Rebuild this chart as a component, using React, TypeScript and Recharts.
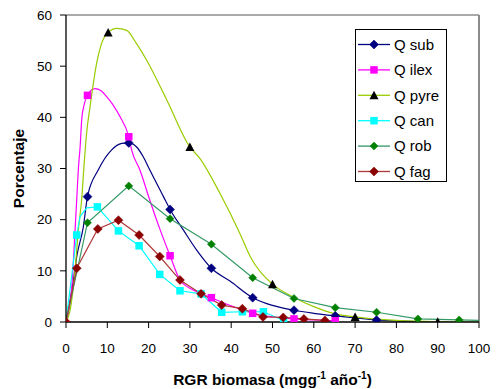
import React from 'react';
import { ComposedChart, Line, Scatter, XAxis, YAxis, ReferenceLine, Legend, Label } from 'recharts';

// ---- tick labels ----
const xTicks = [0, 10, 20, 30, 40, 50, 60, 70, 80, 90, 100];
const yTicks = [0, 10, 20, 30, 40, 50, 60];

// ---- series names ----
const names = ['Q sub', 'Q ilex', 'Q pyre', 'Q can', 'Q rob', 'Q fag'];

// ---- curves (x, y) ----
const subCurve = [[0, 0], [1.8, 8.2], [2.6, 12.8], [4.2, 18.6], [5.2, 24.5], [7.8, 29.7], [11, 33.6], [13.5, 34.9], [15.2, 35], [17.1, 34.2], [18.7, 32.3], [20.3, 29.7], [23.6, 24.5], [25.2, 22], [28.4, 18], [31.6, 14.1], [35.2, 10.5], [39.7, 8], [45.2, 4.75], [48.6, 3.6], [55.2, 2.3], [60, 1.7], [65.2, 1.2], [70, 0.8], [75.2, 0.4], [85, 0.1]];
const subMarks = [[5.2, 24.5], [15.2, 35], [25.2, 22], [35.2, 10.5], [45.2, 4.75], [55.2, 2.3], [65.2, 1.2], [75.2, 0.4]];

const ilexCurve = [[0, 0], [1.4, 6.9], [2.2, 18], [2.6, 24], [3, 30], [3.4, 34], [3.8, 39.5], [4.4, 42.5], [5.2, 44.3], [7, 45.6], [8.5, 45.2], [9.9, 44], [11.5, 42.3], [13.1, 40.1], [15.2, 36.2], [15.9, 33.6], [17.9, 29.7], [20.3, 23.8], [22.8, 18], [25.2, 12.95], [27.6, 8.2], [30.8, 6.25], [35.2, 4.75], [40.5, 3], [45.2, 1.7], [50, 1], [55.2, 0.6], [60, 0.4], [65.2, 0.25]];
const ilexMarks = [[5.2, 44.3], [15.2, 36.2], [25.2, 12.95], [35.2, 4.75], [45.2, 1.7], [55.2, 0.6], [65.2, 0.25]];

const pyreCurve = [[0, 0], [1, 2.3], [2.2, 10.2], [3, 18], [3.8, 24], [4.4, 31], [5, 37], [5.8, 42], [6.5, 46], [7.4, 50.5], [8.6, 54.4], [10.2, 56.6], [12.3, 57.4], [14.7, 57], [17, 54.5], [19.5, 51.2], [24.4, 43.4], [30, 34.2], [32.4, 32], [37.3, 25.1], [42.1, 17.3], [44.6, 12.8], [50, 7.4], [55, 4.9], [60, 3], [64.7, 1.7], [70, 1], [80, 0.3], [90, 0.05], [100, 0]];
const pyreMarks = [[10.2, 56.6], [30, 34.2], [50, 7.4], [70, 1.0], [90, 0.05]];

const canCurve = [[0, 0], [2.6, 17], [3.4, 20.6], [5, 22.3], [7.6, 22.5], [12.7, 17.8], [17.7, 14.9], [22.7, 9.3], [27.6, 6.1], [32.7, 5.5], [37.7, 1.9], [42.7, 2.0], [47.8, 2.0], [52.7, 0.3]];
const canMarks = [[2.6, 17], [7.6, 22.5], [12.7, 17.8], [17.7, 14.9], [22.7, 9.3], [27.6, 6.1], [32.7, 5.5], [37.7, 1.9], [42.7, 2.0], [47.8, 2.0], [52.7, 0.3]];

const robCurve = [[0, 0], [5.2, 19.4], [15.2, 26.6], [25.2, 20.2], [35.2, 15.2], [45.2, 8.65], [55.2, 4.6], [65.2, 2.8], [75.2, 1.9], [85.2, 0.6], [95.2, 0.4], [100, 0.3]];
const robMarks = [[5.2, 19.4], [15.2, 26.6], [25.2, 20.2], [35.2, 15.2], [45.2, 8.65], [55.2, 4.6], [65.2, 2.8], [75.2, 1.9], [85.2, 0.6], [95.2, 0.4]];

const fagCurve = [[0, 0], [2.6, 10.5], [7.7, 18.2], [12.7, 19.9], [17.7, 17.0], [22.7, 12.8], [27.6, 8.2], [32.7, 5.5], [37.7, 3.3], [42.7, 2.6], [47.7, 1.0], [52.6, 0.9], [57.6, 0.6], [62.7, 0.3]];
const fagMarks = [[0, 0], [2.6, 10.5], [7.7, 18.2], [12.7, 19.9], [17.7, 17.0], [22.7, 12.8], [27.6, 8.2], [32.7, 5.5], [37.7, 3.3], [42.7, 2.6], [47.7, 1.0], [52.6, 0.9], [57.6, 0.6], [62.7, 0.3]];

const toPts = (a: number[][]) => a.map(([x, y]) => ({ x, y }));

const FONT = '"Liberation Sans", Arial, sans-serif';

type ShapeKind = 'diamond' | 'square' | 'triangle' | 'smalldiamond';

const drawMarker = (kind: ShapeKind, cx: number, cy: number, color: string, key?: string) => {
  if (kind === 'diamond') {
    const r = 4.5;
    return <polygon key={key} points={`${cx},${cy - r} ${cx + r},${cy} ${cx},${cy + r} ${cx - r},${cy}`} fill={color} stroke={color} strokeWidth={0.5} />;
  }
  if (kind === 'smalldiamond') {
    const r = 4;
    return <polygon key={key} points={`${cx},${cy - r} ${cx + r},${cy} ${cx},${cy + r} ${cx - r},${cy}`} fill={color} stroke={color} strokeWidth={0.5} />;
  }
  if (kind === 'square') {
    const s = 7.5;
    return <rect key={key} x={cx - s / 2} y={cy - s / 2} width={s} height={s} fill={color} />;
  }
  const h = 8;
  return <polygon key={key} points={`${cx},${cy - h / 2 - 0.5} ${cx + 4.5},${cy + h / 2} ${cx - 4.5},${cy + h / 2}`} fill={color} />;
};

const series = [
  { name: names[0], curve: subCurve, marks: subMarks, line: '#000080', mark: '#000080', shape: 'diamond' as ShapeKind, type: 'monotone' },
  { name: names[1], curve: ilexCurve, marks: ilexMarks, line: '#FF00FF', mark: '#FF00FF', shape: 'square' as ShapeKind, type: 'monotone' },
  { name: names[2], curve: pyreCurve, marks: pyreMarks, line: '#99CC00', mark: '#000000', shape: 'triangle' as ShapeKind, type: 'monotone' },
  { name: names[3], curve: canCurve, marks: canMarks, line: '#00FFFF', mark: '#00FFFF', shape: 'square' as ShapeKind, type: 'linear' },
  { name: names[4], curve: robCurve, marks: robMarks, line: '#339966', mark: '#008000', shape: 'smalldiamond' as ShapeKind, type: 'linear' },
  { name: names[5], curve: fagCurve, marks: fagMarks, line: '#B03A3A', mark: '#8B0000', shape: 'diamond' as ShapeKind, type: 'linear' },
];

const LegendBox = () => (
  <div style={{ width: 90, height: 151, border: '1px solid #000', background: '#fff' }}>
    <svg width={90} height={151} style={{ display: 'block' }}>
      {series.map((s, i) => {
        const cy = 14.5 + i * 25.4;
        return (
          <g key={s.name}>
            <line x1={2} x2={34} y1={cy} y2={cy} stroke={s.line} strokeWidth={1.3} />
            {drawMarker(s.shape, 18, cy, s.mark)}
            <text x={38} y={cy + 5.3} fontSize={15} fontFamily={FONT} fill="#000">{s.name}</text>
          </g>
        );
      })}
    </svg>
  </div>
);

const XTitle = (props: any) => {
  const vb = props.viewBox || { x: 66, y: 322, width: 413 };
  const cx = vb.x + vb.width / 2;
  return (
    <text x={cx} y={385} textAnchor="middle" fontSize={15.5} fontWeight="bold" fontFamily={FONT} fill="#000">
      RGR biomasa (mgg
      <tspan fontSize={10} dy={-6}>-1</tspan>
      <tspan dy={6}> año</tspan>
      <tspan fontSize={10} dy={-6}>-1</tspan>
      <tspan dy={6}>)</tspan>
    </text>
  );
};

const YTitle = (props: any) => {
  const vb = props.viewBox || { x: 0, y: 15, height: 307 };
  const cy = vb.y + vb.height / 2;
  return (
    <text x={24} y={cy} transform={`rotate(-90, 24, ${cy})`} textAnchor="middle" fontSize={15.5} fontWeight="bold" fontFamily={FONT} fill="#000">
      Porcentaje
    </text>
  );
};

export default function App() {
  return (
    <div style={{ position: 'absolute', left: 0, top: 0, background: '#fff' }}>
      <ComposedChart width={499} height={389} margin={{ top: 15, right: 20, bottom: 0, left: 0 }} style={{ fontFamily: FONT }}>
        <XAxis
          dataKey="x"
          type="number"
          domain={[0, 100]}
          ticks={xTicks}
          interval={0}
          height={67}
          tickSize={6}
          tickMargin={15}
          axisLine={{ stroke: '#000', strokeWidth: 1.3 }}
          tickLine={{ stroke: '#000' }}
          tick={{ fontSize: 13.5, fill: '#000', fontFamily: FONT }}
          allowDataOverflow
        >
          <Label content={XTitle} />
        </XAxis>
        <YAxis
          dataKey="y"
          type="number"
          domain={[0, 60]}
          ticks={yTicks}
          interval={0}
          width={66}
          tickSize={6}
          tickMargin={8}
          axisLine={{ stroke: '#000', strokeWidth: 1.3 }}
          tickLine={{ stroke: '#000' }}
          tick={{ fontSize: 13.5, fill: '#000', fontFamily: FONT }}
          allowDataOverflow
        >
          <Label content={YTitle} />
        </YAxis>
        <ReferenceLine y={60} stroke="#8c8c8c" strokeWidth={1.5} />
        <ReferenceLine x={100} stroke="#8c8c8c" strokeWidth={2} />
        {series.map((s) => (
          <Line
            key={'l' + s.name}
            data={toPts(s.curve)}
            dataKey="y"
            type={s.type as any}
            stroke={s.line}
            strokeWidth={1.2}
            dot={false}
            activeDot={false}
            isAnimationActive={false}
            legendType="none"
          />
        ))}
        {series.map((s) => (
          <Scatter
            key={'m' + s.name}
            data={toPts(s.marks)}
            dataKey="y"
            fill={s.mark}
            isAnimationActive={false}
            legendType="none"
            shape={(p: any) => drawMarker(s.shape, p.cx, p.cy, s.mark)}
          />
        ))}
        <Legend
          layout="vertical"
          align="center"
          verticalAlign="middle"
          content={LegendBox}
          wrapperStyle={{ left: 355, top: 29, width: 92, height: 153 }}
        />
      </ComposedChart>
    </div>
  );
}
